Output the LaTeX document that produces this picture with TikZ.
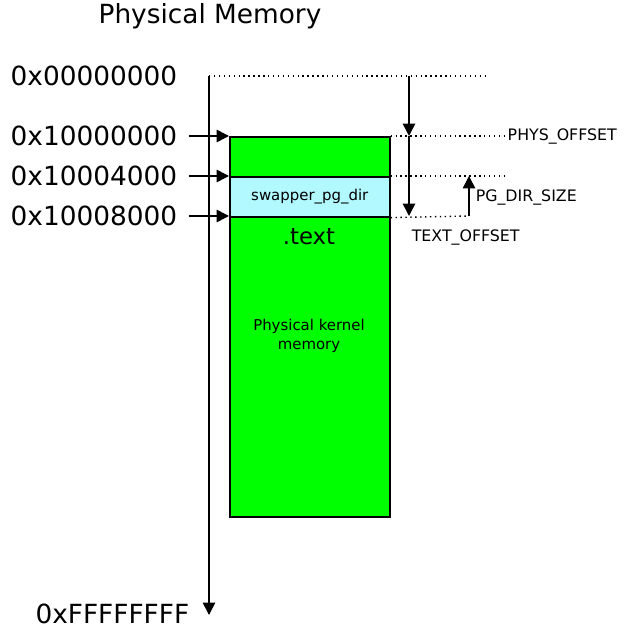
\documentclass[tikz,border=0pt]{standalone}
\usepackage{fontspec}
\setmainfont{DejaVu Sans}
\usetikzlibrary{arrows.meta}
\begin{document}
\begin{tikzpicture}[x=0.02cm,y=-0.02cm,>={Triangle[length=7pt,width=7pt]},line width=0.9pt]

	\tikzstyle{addr}=[anchor=east,inner sep=0pt,font=\fontsize{15}{17}\selectfont]
	\tikzstyle{lbl}=[anchor=west,inner sep=0pt,font=\fontsize{9}{11}\selectfont]
	\tikzstyle{dots}=[dotted,line width=0.8pt]
	\useasboundingbox (0,0) rectangle (629,634);

	\node[font=\fontsize{15}{17}\selectfont] (title) at (210,16) {Physical Memory};

	\node[addr] (a0) at (178,76) {0x00000000};
	\node[addr] (a1) at (178,136) {0x10000000};
	\node[addr] (a2) at (178,176) {0x10004000};
	\node[addr] (a3) at (178,216) {0x10008000};
	\node[addr] (aend) at (190,614) {0xFFFFFFFF};

	% memory block
	\node[draw,fill=green,minimum width=160*0.02cm,minimum height=380*0.02cm,inner sep=0pt,anchor=north west] (mem) at (229,136) {};
	\node[draw,fill=cyan!15!blue!15!white,fill=blue!8!cyan!30,minimum width=160*0.02cm,minimum height=40*0.02cm,inner sep=0pt,anchor=north west,font=\fontsize{8.5}{10}\selectfont] (pgdir) at (229,176) {swapper\_pg\_dir};
	\node[font=\fontsize{13}{15}\selectfont] (text) at (309,237) {.text};
	\node[align=center,font=\fontsize{8.5}{10.5}\selectfont] (kmem) at (309,336) {Physical kernel\\memory};

	% address axis
	\coordinate (top) at (209,76);
	\coordinate (bot) at (209,615);
	\draw[->] (top) -- (bot);
	\foreach \y in {136,176,216}
		\draw[->] (189,\y) -- (229,\y);

	\draw[dots] (top) -- (487,76);
	\draw[dots] (mem.north east) -- (507,136) node[lbl,right] (phys) {PHYS\_OFFSET};
	\draw[dots] (pgdir.north east) -- (507,176);
	\draw[dots] (pgdir.south east) -- (469,216) coordinate (pgb);
	\draw[->] (pgb) -- (469,176);
	\node[lbl] (pgsize) at (475,197) {PG\_DIR\_SIZE};

	\draw[->] (409,76) -- (409,136);
	\draw[->] (409,136) -- (409,216);
	\node[lbl] (toff) at (411,237) {TEXT\_OFFSET};
\end{tikzpicture}
\end{document}
